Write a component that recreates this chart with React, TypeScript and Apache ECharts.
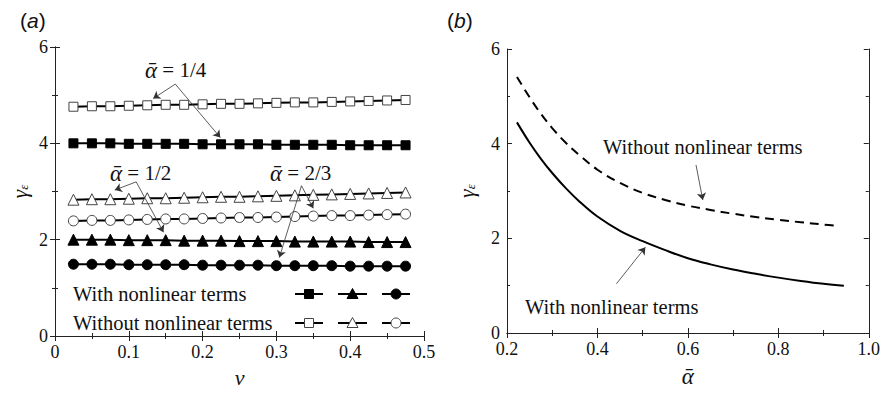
import React, { useEffect, useRef } from "react";
import * as echarts from "echarts";

// ---------- data: panel (a) ----------
const nu = [0.025, 0.05, 0.075, 0.1, 0.125, 0.15, 0.175, 0.2, 0.225, 0.25, 0.275, 0.3, 0.325, 0.35, 0.375, 0.4, 0.425, 0.45, 0.475];
const a14With = [4.0, 4.0, 4.0, 3.99, 3.99, 3.99, 3.99, 3.98, 3.98, 3.98, 3.98, 3.97, 3.97, 3.97, 3.97, 3.96, 3.96, 3.96, 3.96];
const a14Without = [4.76, 4.77, 4.77, 4.78, 4.79, 4.8, 4.8, 4.81, 4.82, 4.82, 4.83, 4.84, 4.85, 4.85, 4.86, 4.87, 4.88, 4.89, 4.9];
const a12With = [2.0, 2.0, 2.0, 1.99, 1.99, 1.99, 1.98, 1.98, 1.98, 1.97, 1.97, 1.97, 1.96, 1.96, 1.96, 1.96, 1.95, 1.95, 1.95];
const a12Without = [2.83, 2.84, 2.84, 2.85, 2.86, 2.86, 2.87, 2.88, 2.89, 2.89, 2.9, 2.91, 2.92, 2.93, 2.94, 2.95, 2.96, 2.97, 2.98];
const a23With = [1.49, 1.49, 1.49, 1.48, 1.48, 1.48, 1.48, 1.47, 1.47, 1.47, 1.47, 1.46, 1.46, 1.46, 1.46, 1.45, 1.45, 1.45, 1.45];
const a23Without = [2.39, 2.4, 2.4, 2.41, 2.42, 2.43, 2.43, 2.44, 2.45, 2.46, 2.46, 2.47, 2.48, 2.49, 2.5, 2.5, 2.51, 2.52, 2.53];

// ---------- data: panel (b) ----------
const alphaWith = [0.222, 0.25, 0.275, 0.3, 0.33, 0.36, 0.4, 0.45, 0.5, 0.55, 0.6, 0.65, 0.7, 0.75, 0.8, 0.85, 0.9, 0.945];
const gammaWith = [4.45, 4.02, 3.68, 3.38, 3.06, 2.78, 2.46, 2.16, 1.94, 1.75, 1.58, 1.45, 1.34, 1.25, 1.17, 1.1, 1.04, 1.0];
const alphaWithout = [0.222, 0.25, 0.275, 0.3, 0.33, 0.36, 0.4, 0.45, 0.5, 0.55, 0.6, 0.65, 0.7, 0.75, 0.8, 0.85, 0.9, 0.925];
const gammaWithout = [5.41, 4.98, 4.63, 4.33, 4.02, 3.76, 3.45, 3.17, 2.96, 2.81, 2.69, 2.6, 2.52, 2.45, 2.39, 2.34, 2.29, 2.27];

// ---------- tick ranges ----------
const nuTicks = { min: 0, max: 0.5, interval: 0.1 };
const alphaTicks = { min: 0.2, max: 1.0, interval: 0.2 };
const gammaTicks = { min: 0, max: 6, interval: 2 };

const SERIF = "Liberation Serif";
const SANS = "Liberation Sans";

const pairs = (xs: number[], ys: number[]) => xs.map((x, i) => [x, ys[i]]);

export default function App() {
  const ref = useRef<HTMLDivElement>(null);

  useEffect(() => {
    if (!ref.current) return;
    const chart = echarts.init(ref.current, null, { renderer: "svg" });

    const axisLine = { show: true, lineStyle: { color: "#222", width: 1 } };
    const tickStyle = { show: true, inside: true, length: 5, lineStyle: { color: "#222", width: 1 } };
    const minorStyle = { show: true, splitNumber: 2, length: 3, lineStyle: { color: "#222", width: 1 } };
    const labelStyle = { color: "#111", fontSize: 18, fontFamily: SERIF, margin: 7 };

    const mkX = (gi: number, range: any, pos: string, labels: boolean, fmt: any, extra: any = {}) => ({
      type: "value",
      gridIndex: gi,
      position: pos,
      ...range,
      axisLine,
      axisTick: tickStyle,
      minorTick: { ...minorStyle },
      axisLabel: labels ? { ...labelStyle, formatter: fmt } : { show: false },
      splitLine: { show: false },
      minorSplitLine: { show: false },
      ...extra,
    });
    const mkY = (gi: number, pos: string, labels: boolean, extra: any = {}) => ({
      type: "value",
      gridIndex: gi,
      position: pos,
      ...gammaTicks,
      axisLine,
      axisTick: tickStyle,
      minorTick: { ...minorStyle },
      axisLabel: labels ? { ...labelStyle } : { show: false },
      splitLine: { show: false },
      minorSplitLine: { show: false },
      ...extra,
    });

    const yName = {
      name: "{g|γ}{s|ε}",
      nameLocation: "middle",
      nameRotate: 90,
      nameTextStyle: {
        fontFamily: SERIF,
        rich: {
          g: { fontFamily: SERIF, fontStyle: "italic", fontSize: 22, color: "#111" },
          s: { fontFamily: SERIF, fontStyle: "italic", fontSize: 13, color: "#111", padding: [9, 0, 0, 0] },
        },
      },
    };

    const arrowLine = (lines: number[][][]) => ({
      silent: true,
      symbol: ["none", "arrow"],
      symbolSize: 7,
      label: { show: false },
      emphasis: { disabled: true },
      lineStyle: { color: "#333", width: 0.8, type: "solid" },
      itemStyle: { color: "#333" },
      data: lines.map((l) => [{ coord: l[0] }, { coord: l[1] }]),
    });

    const lineSeries = (data: number[], symbol: string, filled: boolean, size: number, extra: any = {}) => ({
      type: "line",
      xAxisIndex: 0,
      yAxisIndex: 0,
      data: pairs(nu, data),
      symbol,
      symbolSize: size,
      showSymbol: true,
      lineStyle: { color: "#000", width: 2 },
      itemStyle: filled
        ? { color: "#000", borderColor: "#000", borderWidth: 1 }
        : { color: "#fff", borderColor: "#444", borderWidth: 1 },
      ...extra,
    });

    const legRowY = [294, 323];
    const legSegs = [
      [295, 323],
      [338, 367],
      [382, 410],
    ];
    const legendGraphics: any[] = [];
    const legTexts = ["With nonlinear terms", "Without nonlinear terms"];
    legRowY.forEach((y, r) => {
      const filled = r === 0;
      legendGraphics.push({
        type: "text",
        x: 73,
        y,
        style: { text: legTexts[r], fontFamily: SERIF, fontSize: 20.5, fill: "#111", verticalAlign: "middle" },
      });
      legSegs.forEach((s, k) => {
        legendGraphics.push({ type: "line", shape: { x1: s[0], y1: y, x2: s[1], y2: y }, style: { stroke: "#000", lineWidth: 2 } });
        const cx = (s[0] + s[1]) / 2;
        const st = filled ? { fill: "#000", stroke: "#000", lineWidth: 1 } : { fill: "#fff", stroke: "#444", lineWidth: 1 };
        if (k === 0) legendGraphics.push({ type: "rect", shape: { x: cx - 4.5, y: y - 4.5, width: 9, height: 9 }, style: st });
        if (k === 1)
          legendGraphics.push({ type: "polygon", shape: { points: [[cx, y - 5.5], [cx + 5.5, y + 4.5], [cx - 5.5, y + 4.5]] }, style: st });
        if (k === 2) legendGraphics.push({ type: "circle", shape: { cx, cy: y, r: 5 }, style: st });
      });
    });

    const alphaAnnot = (x: number, y: number, frac: string) => ({
      type: "text",
      x,
      y,
      style: {
        text: `{a|ᾱ}{n| = ${frac}}`,
        fontFamily: SERIF,
        fontSize: 20.5,
        fill: "#111",
        verticalAlign: "middle",
        rich: {
          a: { fontFamily: SERIF, fontStyle: "italic", fontSize: 23, fill: "#111" },
          n: { fontFamily: SERIF, fontSize: 21, fill: "#111" },
        },
      },
    });
    const plainAnnot = (x: number, y: number, text: string) => ({
      type: "text",
      x,
      y,
      style: { text, fontFamily: SERIF, fontSize: 20.5, fill: "#111", verticalAlign: "middle" },
    });
    const panelLabel = (x: number, letter: string) => ({
      type: "text",
      x,
      y: 20,
      style: {
        text: `{p|(}{i|${letter}}{p|)}`,
        fontFamily: SANS,
        fontSize: 21,
        fill: "#111",
        verticalAlign: "middle",
        rich: {
          p: { fontFamily: SANS, fontSize: 21, fill: "#111" },
          i: { fontFamily: SANS, fontStyle: "italic", fontSize: 21, fill: "#111" },
        },
      },
    });

    const option: any = {
      animation: false,
      backgroundColor: "#fff",
      textStyle: { fontFamily: SERIF },
      grid: [
        { left: 55, top: 47, width: 369, height: 296 },
        { left: 507, top: 49, width: 364, height: 293 },
      ],
      xAxis: [
        mkX(0, nuTicks, "bottom", true, (v: number) => (v === 0 ? "0" : v.toFixed(1)), {
          name: "ν",
          nameLocation: "middle",
          nameGap: 30,
          nameTextStyle: { fontFamily: SERIF, fontStyle: "italic", fontSize: 22, color: "#111" },
        }),
        mkX(0, nuTicks, "top", false, null),
        mkX(1, alphaTicks, "bottom", true, (v: number) => v.toFixed(1), {
          name: "ᾱ",
          nameLocation: "middle",
          nameGap: 32,
          nameTextStyle: { fontFamily: SERIF, fontStyle: "italic", fontSize: 23, color: "#111" },
        }),
        mkX(1, alphaTicks, "top", false, null),
      ],
      yAxis: [
        mkY(0, "left", true, { ...yName, nameGap: 25 }),
        mkY(0, "right", false),
        mkY(1, "left", true, { ...yName, nameGap: 30 }),
        mkY(1, "right", false),
      ],
      series: [
        lineSeries(a14Without, "rect", false, 9, {
          markLine: arrowLine([
            [[0.163, 5.23], [0.133, 4.93]],
            [[0.163, 5.23], [0.224, 4.12]],
          ]),
        }),
        lineSeries(a14With, "rect", true, 9),
        lineSeries(a12Without, "triangle", false, 11, {
          markLine: arrowLine([
            [[0.11, 3.2], [0.081, 3.03]],
            [[0.11, 3.2], [0.147, 2.155]],
          ]),
        }),
        lineSeries(a12With, "triangle", true, 11),
        lineSeries(a23Without, "circle", false, 10, {
          markLine: arrowLine([
            [[0.334, 3.12], [0.35, 2.65]],
            [[0.334, 3.12], [0.304, 1.63]],
          ]),
        }),
        lineSeries(a23With, "circle", true, 10),
        {
          type: "line",
          xAxisIndex: 2,
          yAxisIndex: 2,
          data: pairs(alphaWith, gammaWith),
          smooth: 0.4,
          showSymbol: false,
          symbol: "none",
          lineStyle: { color: "#000", width: 2 },
          markLine: arrowLine([[[0.442, 1.04], [0.506, 1.81]]]),
        },
        {
          type: "line",
          xAxisIndex: 2,
          yAxisIndex: 2,
          data: pairs(alphaWithout, gammaWithout),
          smooth: 0.4,
          showSymbol: false,
          symbol: "none",
          lineStyle: { color: "#000", width: 2, type: [9, 6] },
          markLine: arrowLine([[[0.618, 3.55], [0.633, 2.81]]]),
        },
      ],
      graphic: [
        panelLabel(20, "a"),
        panelLabel(447, "b"),
        alphaAnnot(145, 70, "1/4"),
        alphaAnnot(110, 173, "1/2"),
        alphaAnnot(270, 173, "2/3"),
        plainAnnot(603, 147, "Without nonlinear terms"),
        plainAnnot(525, 307, "With nonlinear terms"),
        ...legendGraphics,
      ],
    };

    chart.setOption(option);
    return () => chart.dispose();
  }, []);

  return (
    <div
      ref={ref}
      style={{ position: "fixed", left: 0, top: 0, width: 883, height: 393, background: "#fff" }}
    />
  );
}
